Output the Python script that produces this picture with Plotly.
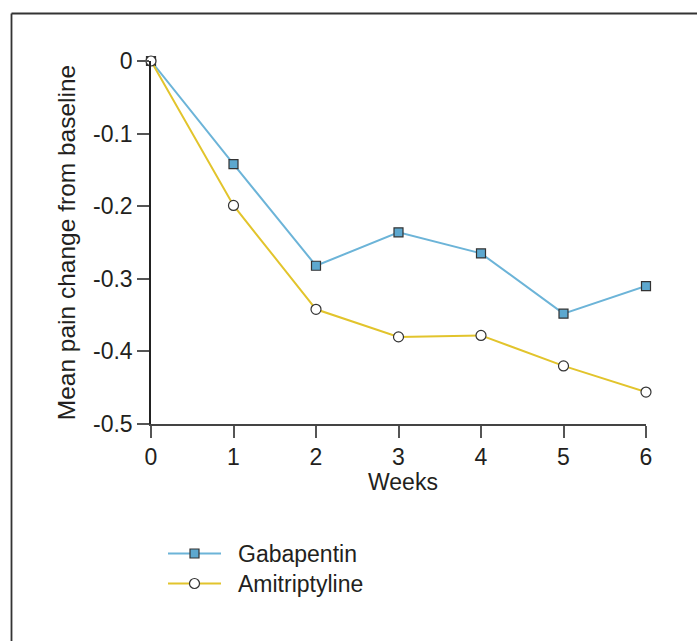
import plotly.graph_objects as go

# Mean pain change from baseline by week
weeks = [0, 1, 2, 3, 4, 5, 6]
gabapentin = [0.0, -0.142, -0.282, -0.236, -0.265, -0.348, -0.310]
amitriptyline = [0.0, -0.199, -0.342, -0.380, -0.378, -0.420, -0.456]

y_tickvals = [0, -0.1, -0.2, -0.3, -0.4, -0.5]
y_ticktext = ["0", "-0.1", "-0.2", "-0.3", "-0.4", "-0.5"]
x_tickvals = [0, 1, 2, 3, 4, 5, 6]
x_ticktext = ["0", "1", "2", "3", "4", "5", "6"]

series_names = ["Gabapentin", "Amitriptyline"]

W, H = 697, 641
ML, MR, MT, MB = 151, 51, 61, 217
PW, PH = W - ML - MR, H - MT - MB

FONT = "Liberation Sans, Arial, sans-serif"
TXT = "#231f20"
BLUE_LINE = "#6cb4d8"
BLUE_FILL = "#5da8cf"
YELLOW = "#e2c42c"
EDGE = "#333333"


def px_x(px):
    return (px - ML) / PW


def px_y(py):
    return (H - MB - py) / PH


fig = go.Figure()

fig.add_trace(go.Scatter(
    x=weeks, y=gabapentin, name=series_names[0], mode="lines+markers",
    line=dict(color=BLUE_LINE, width=2),
    marker=dict(symbol="square", size=9, color=BLUE_FILL,
                line=dict(color=EDGE, width=1.2)),
    cliponaxis=False, showlegend=False,
))
fig.add_trace(go.Scatter(
    x=weeks, y=amitriptyline, name=series_names[1], mode="lines+markers",
    line=dict(color=YELLOW, width=2),
    marker=dict(symbol="circle", size=10, color="white",
                line=dict(color=EDGE, width=1.2)),
    cliponaxis=False, showlegend=False,
))

shapes = [
    # frame lines along the top and left edges
    dict(type="line", xref="paper", yref="paper",
         x0=px_x(11.5), x1=px_x(700), y0=px_y(13.5), y1=px_y(13.5),
         line=dict(color="#333333", width=1.8)),
    dict(type="line", xref="paper", yref="paper",
         x0=px_x(11.5), x1=px_x(11.5), y0=px_y(13.5), y1=px_y(645),
         line=dict(color="#333333", width=1.8)),
]

# legend key drawn below the plot
legend_rows = [
    (series_names[0], BLUE_LINE, BLUE_FILL, "rect", 553.5),
    (series_names[1], YELLOW, "white", "circle", 583.5),
]
annotations = []
for name, lc, fc, kind, yy in legend_rows:
    shapes.append(dict(type="line", xref="paper", yref="paper",
                       x0=px_x(168), x1=px_x(221), y0=px_y(yy), y1=px_y(yy),
                       line=dict(color=lc, width=2)))
    half = 4.5 if kind == "rect" else 5
    shapes.append(dict(type=kind, xref="paper", yref="paper",
                       x0=px_x(194.5 - half), x1=px_x(194.5 + half),
                       y0=px_y(yy - half), y1=px_y(yy + half),
                       fillcolor=fc, line=dict(color=EDGE, width=1.2)))
    annotations.append(dict(text=name, xref="paper", yref="paper",
                            x=px_x(236), y=px_y(yy), xanchor="left",
                            yanchor="middle", showarrow=False,
                            font=dict(family=FONT, size=23, color=TXT)))

# x-axis title centred under the tick labels
annotations.append(dict(text="Weeks", xref="paper", yref="paper",
                        x=px_x(403), y=px_y(482), xanchor="center",
                        yanchor="middle", showarrow=False,
                        font=dict(family=FONT, size=23, color=TXT)))

fig.update_layout(
    width=W, height=H,
    margin=dict(l=ML, r=MR, t=MT, b=MB),
    paper_bgcolor="white", plot_bgcolor="white",
    font=dict(family=FONT, size=23, color=TXT),
    shapes=shapes, annotations=annotations,
    showlegend=False,
)

fig.update_xaxes(
    range=[0, 6], tickvals=x_tickvals, ticktext=x_ticktext,
    showgrid=False, zeroline=False,
    showline=True, linecolor="#444444", linewidth=1.5,
    ticks="outside", ticklen=12, tickwidth=1.5, tickcolor="#555555",
    tickfont=dict(family=FONT, size=23, color=TXT),
)
fig.update_yaxes(
    range=[-0.5, 0], tickvals=y_tickvals, ticktext=y_ticktext,
    showgrid=False, zeroline=False,
    showline=True, linecolor="#222222", linewidth=1.5,
    ticks="outside", ticklen=12, tickwidth=1.5, tickcolor="#555555",
    tickfont=dict(family=FONT, size=23, color=TXT),
    title=dict(text="Mean pain change from baseline", standoff=10,
               font=dict(family=FONT, size=24.5, color=TXT)),
)

fig.write_html("out.html")
